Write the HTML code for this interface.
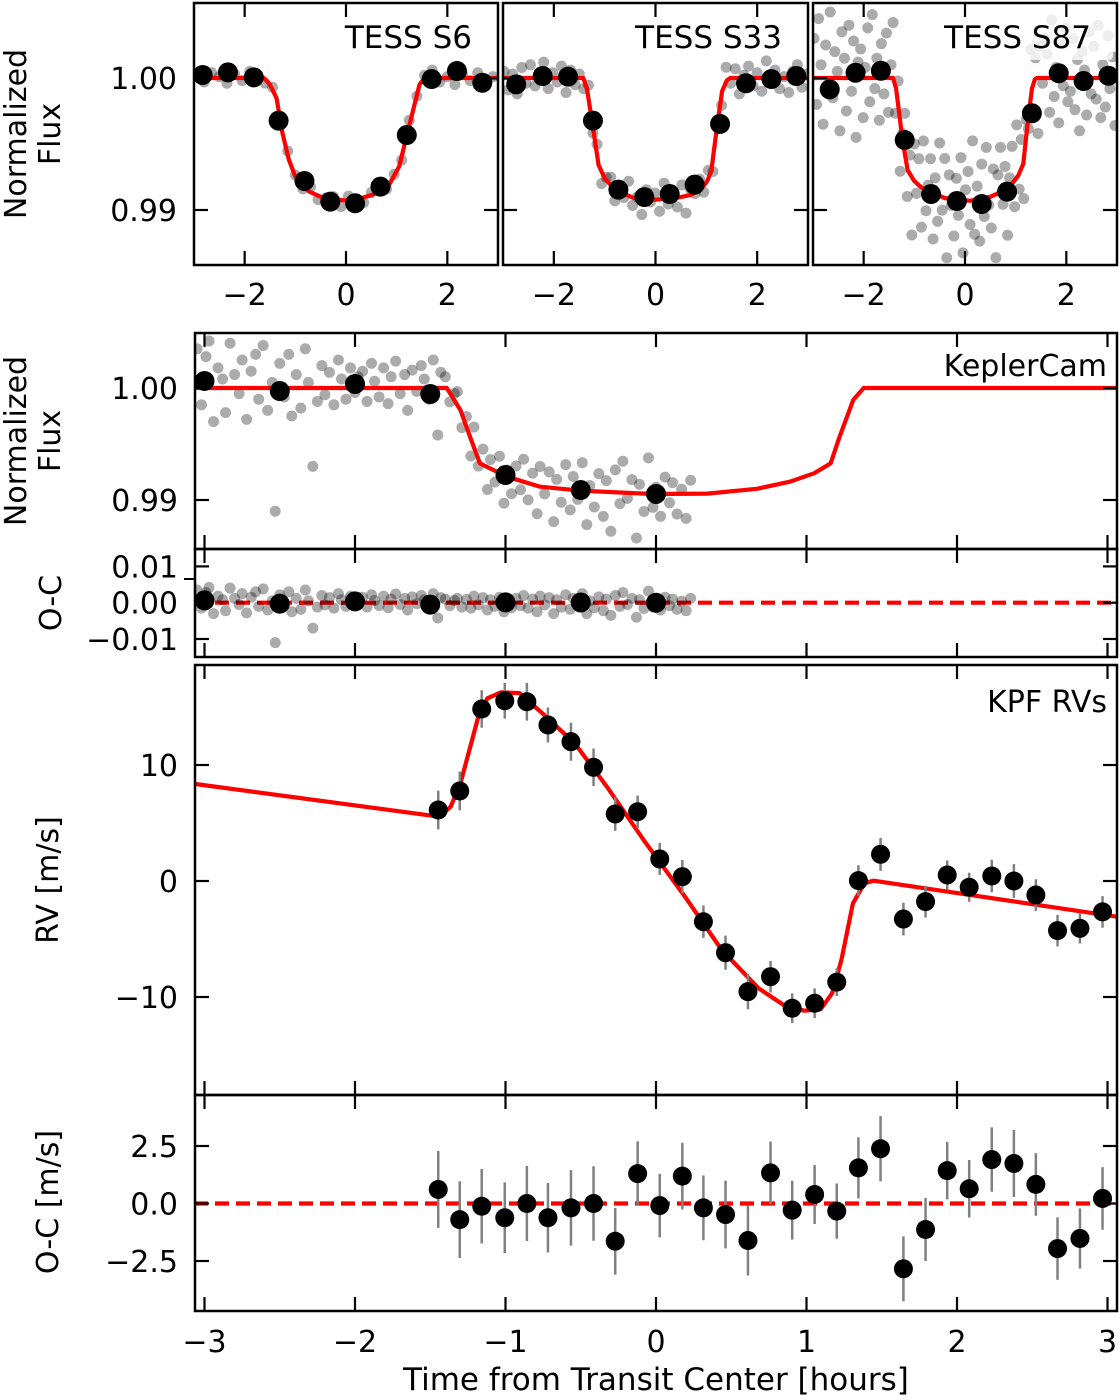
<!DOCTYPE html>
<html><head><meta charset="utf-8">
<style>
html,body{margin:0;padding:0;background:#fff;}
svg{display:block;font-family:"DejaVu Sans","Liberation Sans",sans-serif;}
text{fill:#000;}
</style></head>
<body>
<svg id="fig" width="1120" height="1400" viewBox="0 0 1120 1400" xmlns="http://www.w3.org/2000/svg">
<defs>
<clipPath id="cp1"><rect x="194" y="3" width="304" height="262"/></clipPath>
<clipPath id="cp2"><rect x="503" y="3" width="305" height="262"/></clipPath>
<clipPath id="cp3"><rect x="813" y="3" width="304" height="262"/></clipPath>
<clipPath id="cpK"><rect x="195" y="333" width="922" height="216"/></clipPath>
<clipPath id="cpKO"><rect x="195" y="549" width="922" height="108"/></clipPath>
<clipPath id="cpRV"><rect x="195" y="665" width="922" height="430"/></clipPath>
<clipPath id="cpRO"><rect x="195" y="1095" width="922" height="216"/></clipPath>
</defs>
<g id="layer"></g>
<text transform="translate(26,134) rotate(-90)" text-anchor="middle" font-size="30">Normalized</text>
<text transform="translate(60,134) rotate(-90)" text-anchor="middle" font-size="30">Flux</text>
<text transform="translate(26,441) rotate(-90)" text-anchor="middle" font-size="30">Normalized</text>
<text transform="translate(60,441) rotate(-90)" text-anchor="middle" font-size="30">Flux</text>
<text transform="translate(61,603) rotate(-90)" text-anchor="middle" font-size="30">O-C</text>
<text transform="translate(58,880) rotate(-90)" text-anchor="middle" font-size="30">RV [m/s]</text>
<text transform="translate(58,1202) rotate(-90)" text-anchor="middle" font-size="30">O-C [m/s]</text>
<text x="656" y="1390" text-anchor="middle" font-size="31">Time from Transit Center [hours]</text>
<line x1="184" y1="579" x2="195" y2="579" stroke="#000" stroke-width="2"/>
</svg>
<script>
// ---------- DATA ----------
const s6BinT=[-2.83,-2.33,-1.82,-1.33,-0.82,-0.31,0.18,0.68,1.20,1.69,2.19,2.69];
const s6BinF=[1.00023,1.00043,1.00005,0.99677,0.9922,0.99063,0.99051,0.99177,0.99568,0.99992,1.00053,0.99964];
const s33BinT=[-2.74,-2.22,-1.72,-1.23,-0.73,-0.22,0.28,0.77,1.27,1.78,2.28,2.77];
const s33BinF=[0.99952,1.00015,1.0001,0.99677,0.99154,0.99098,0.99121,0.99192,0.99652,0.9996,0.99992,1.00015];
const s87BinT=[-2.67,-2.16,-1.66,-1.19,-0.67,-0.16,0.33,0.83,1.32,1.85,2.34,2.83];
const s87BinF=[0.99914,1.0004,1.00055,0.9953,0.99121,0.99068,0.99045,0.99139,0.99733,1.00036,0.99977,1.00017];
const s6ModelT=[-3,-1.62,-1.5,-1.37,-1.26,-1.13,-1.0,-0.85,-0.73,-0.5,-0.34,0,0.3,0.52,0.7,0.85,1.05,1.25,1.45,1.55,3];
const s6ModelF=[1,1,0.9995,0.99846,0.99592,0.99385,0.99254,0.9918,0.9914,0.991,0.99085,0.99072,0.9909,0.99115,0.9915,0.99192,0.9933,0.9964,0.9995,1,1];
const s33ModelT=[-3,-1.42,-1.35,-1.25,-1.12,-1.0,-0.88,-0.6,-0.43,0,0.4,0.69,0.9,1.02,1.1,1.18,1.31,1.4,1.47,3];
const s33ModelF=[1,1,0.9992,0.99674,0.9934,0.9924,0.99189,0.9912,0.99091,0.99078,0.9909,0.99114,0.9916,0.9922,0.993,0.99545,0.999,0.9998,1,1];
const s87ModelT=[-3,-1.42,-1.36,-1.23,-1.13,-1.0,-0.86,-0.4,0.1,0.5,0.79,0.95,1.05,1.15,1.22,1.32,1.38,1.42,3];
const s87ModelF=[1,1,0.9992,0.9952,0.993,0.9922,0.9917,0.9909,0.9907,0.991,0.9915,0.9921,0.9926,0.9935,0.996,0.9992,0.9999,1,1];
const s6T=[-2.95,-2.8,-2.65,-2.5,-2.35,-2.2,-2.05,-1.9,-1.75,-1.6,-1.45,-1.3,-1.15,-1.0,-0.85,-0.7,-0.55,-0.4,-0.25,-0.1,0.05,0.2,0.35,0.5,0.65,0.8,0.95,1.1,1.25,1.4,1.55,1.7,1.85,2.0,2.15,2.3,2.45,2.6,2.75,2.9];
const s6Dev=[2,-3,4,1,-4,3,-2,5,-1,-3,2,-4,3,1,-2,4,-3,0,2,-5,3,-1,-4,2,5,-2,1,-3,4,-1,2,6,-3,1,-5,3,-2,4,-4,1];
const s33T=[-2.98,-2.9,-2.81,-2.72,-2.63,-2.55,-2.46,-2.37,-2.28,-2.2,-2.11,-2.02,-1.93,-1.85,-1.76,-1.67,-1.58,-1.5,-1.41,-1.32,-1.23,-1.15,-1.06,-0.97,-0.88,-0.8,-0.71,-0.62,-0.53,-0.45,-0.36,-0.27,-0.18,-0.1,-0.01,0.08,0.17,0.25,0.34,0.43,0.52,0.6,0.69,0.78,0.87,0.95,1.04,1.13,1.22,1.3,1.39,1.48,1.57,1.65,1.74,1.83,1.92,2.0,2.09,2.18,2.27,2.35,2.44,2.53,2.62,2.7,2.79,2.88,2.97];
const s33Dev=[5,-9,3,-12,8,-4,10,-6,2,12,-8,4,-3,9,-11,6,-5,3,-7,10,-4,8,-9,2,6,-10,4,-3,11,-6,1,-12,7,-2,5,-9,12,-4,3,-7,9,-13,4,-1,8,-5,6,-10,3,-8,11,-4,7,-12,2,9,-6,4,-10,13,-3,6,-8,1,-11,5,10,-7,3];
const s87T=[-2.98,-2.93,-2.89,-2.84,-2.80,-2.75,-2.70,-2.66,-2.61,-2.57,-2.52,-2.47,-2.43,-2.38,-2.34,-2.29,-2.24,-2.20,-2.15,-2.11,-2.06,-2.01,-1.97,-1.92,-1.88,-1.83,-1.78,-1.74,-1.69,-1.65,-1.60,-1.55,-1.51,-1.46,-1.42,-1.37,-1.32,-1.28,-1.23,-1.19,-1.14,-1.09,-1.05,-1.00,-0.96,-0.91,-0.86,-0.82,-0.77,-0.73,-0.68,-0.63,-0.59,-0.54,-0.50,-0.45,-0.40,-0.36,-0.31,-0.27,-0.22,-0.17,-0.13,-0.08,-0.04,0.01,0.06,0.10,0.15,0.19,0.24,0.29,0.33,0.38,0.42,0.47,0.52,0.56,0.61,0.65,0.70,0.75,0.79,0.84,0.88,0.93,0.98,1.02,1.07,1.11,1.16,1.21,1.25,1.30,1.34,1.39,1.44,1.48,1.53,1.57,1.62,1.67,1.71,1.76,1.80,1.85,1.90,1.94,1.99,2.03,2.08,2.13,2.17,2.22,2.26,2.31,2.36,2.40,2.45,2.49,2.54,2.59,2.63,2.68,2.72,2.77,2.82,2.86,2.91,2.96];
const s87Dev=[30,-20,45,10,-35,25,-5,50,-15,20,5,-40,35,15,-25,40,-10,28,-45,12,22,-30,8,38,-18,48,-8,15,-32,26,-12,34,-26,10,42,-20,18,-38,6,30,-22,14,-44,28,-8,20,-30,36,-16,4,25,-35,12,-20,40,-10,30,-45,18,-5,-28,16,-12,32,-40,8,22,-18,45,-26,10,-32,26,-14,38,-6,-24,20,-48,14,34,-10,18,-36,6,28,-20,40,-12,22,-30,12,-8,36,-22,16,-42,24,-4,30,18,-26,44,-14,8,-34,26,-6,38,-18,-10,30,-24,14,-40,20,6,-28,35,-12,24,-16,40,-30,10,-22,32,-8,16,-36];
const kcBinT=[-3.0,-2.5,-2.0,-1.5,-1.0,-0.5,0.0];
const kcBinF=[1.00063,0.99973,1.00036,0.99946,0.99223,0.99089,0.99054];
const kcModelT=[-3.07,-1.39,-1.3,-1.236,-1.17,-0.99,-0.77,-0.5,-0.02,0.34,0.67,0.89,1.05,1.16,1.22,1.31,1.38,3.07];
const kcModelF=[1,1,0.99804,0.99565,0.99327,0.99208,0.99119,0.99083,0.99054,0.99057,0.991,0.99163,0.99238,0.99327,0.99565,0.99893,1,1];
const kcT=[-3.05,-3.02,-2.99,-2.97,-2.94,-2.91,-2.88,-2.86,-2.83,-2.80,-2.77,-2.75,-2.72,-2.69,-2.66,-2.64,-2.61,-2.58,-2.55,-2.53,-2.50,-2.47,-2.44,-2.42,-2.39,-2.36,-2.33,-2.31,-2.28,-2.25,-2.22,-2.20,-2.17,-2.14,-2.11,-2.09,-2.06,-2.03,-2.00,-1.98,-1.95,-1.92,-1.89,-1.87,-1.84,-1.81,-1.78,-1.76,-1.73,-1.70,-1.67,-1.65,-1.62,-1.59,-1.56,-1.54,-1.51,-1.48,-1.45,-1.43,-1.40,-1.37,-1.34,-1.32,-1.29,-1.26,-1.23,-1.21,-1.18,-1.15,-1.12,-1.10,-1.07,-1.04,-1.01,-0.99,-0.96,-0.93,-0.90,-0.88,-0.85,-0.82,-0.79,-0.77,-0.74,-0.71,-0.68,-0.66,-0.63,-0.60,-0.57,-0.55,-0.52,-0.49,-0.46,-0.44,-0.41,-0.38,-0.35,-0.33,-0.30,-0.27,-0.24,-0.22,-0.19,-0.16,-0.13,-0.11,-0.08,-0.05,-0.02,0.00,0.03,0.06,0.09,0.11,0.14,0.17,0.20,0.23];
const kcDev=[35,-15,28,42,-30,18,8,-22,40,12,-5,25,-28,15,30,-10,38,-20,5,-110,22,-8,30,-25,12,-18,35,5,-70,-12,20,-6,14,-15,25,8,-10,18,-4,10,15,-12,22,6,-8,18,-14,10,24,-5,12,-20,16,-3,20,8,-10,25,-42,14,10,-8,6,12,-12,9,-15,18,-6,14,-20,8,-10,15,-25,6,-14,12,-8,20,-15,10,-25,18,-6,14,-30,8,-12,22,-18,12,-8,25,-30,5,-14,16,-22,10,-35,20,-10,28,-5,12,-40,8,-16,32,-12,6,-20,15,-8,10,-18,4,-22,12];
const rvT=[-1.447,-1.304,-1.158,-1.005,-0.858,-0.718,-0.565,-0.415,-0.271,-0.122,0.025,0.175,0.315,0.462,0.611,0.761,0.905,1.054,1.201,1.345,1.492,1.644,1.791,1.935,2.081,2.231,2.378,2.524,2.668,2.817,2.967];
const rvV=[6.12,7.76,14.83,15.54,15.45,13.45,12.01,9.8,5.78,5.97,1.90,0.37,-3.51,-6.18,-9.54,-8.25,-10.97,-10.54,-8.72,0.03,2.30,-3.28,-1.78,0.52,-0.54,0.43,0,-1.21,-4.28,-4.08,-2.66];
const rvErr=[1.67,1.67,1.62,1.54,1.63,1.51,1.64,1.62,1.45,1.40,1.38,1.45,1.41,1.47,1.52,1.36,1.28,1.28,1.20,1.33,1.42,1.41,1.37,1.25,1.25,1.40,1.46,1.36,1.36,1.31,1.36];
const rvRes=[0.61,-0.70,-0.12,-0.62,0,-0.62,-0.19,0,-1.64,1.30,-0.09,1.19,-0.19,-0.48,-1.61,1.33,-0.29,0.39,-0.33,1.55,2.38,-2.84,-1.13,1.43,0.64,1.91,1.74,0.83,-1.96,-1.52,0.22];
const rvModelT=[-3.06,-1.44,-1.365,-1.30,-1.24,-1.18,-1.12,-1.03,-0.907,-0.754,-0.54,-0.326,-0.082,0.193,0.437,0.682,0.865,0.987,1.094,1.17,1.232,1.308,1.385,1.446,3.063];
const rvModelV=[8.36,5.54,6.4,8.4,11.3,14.2,15.75,16.27,16.2,14.45,11.87,8.13,3.53,-1.35,-5.95,-9.25,-10.84,-11.18,-11.06,-9.68,-6.81,-1.93,-0.2,0.03,-3.08];
const topXTicks=[-2,0,2];
const topXLabels=["\u22122","0","2"];
const botXTicks=[-3,-2,-1,0,1,2,3];
const botXLabels=["\u22123","\u22122","\u22121","0","1","2","3"];
const fluxTicks=[1.00,0.99];
const fluxLabels=["1.00","0.99"];
const kocTicks=[0.01,0,-0.01];
const kocLabels=["0.01","0.00","\u22120.01"];
const rvTicks=[10,0,-10];
const rvLabels=["10","0","\u221210"];
const rocTicks=[2.5,0,-2.5];
const rocLabels=["2.5","0.0","\u22122.5"];

// ---------- AXES ----------
const topPanels=[{L:194,R:498,clip:'cp1',name:'tess-s6'},{L:503,R:808,clip:'cp2',name:'tess-s33'},{L:813,R:1117,clip:'cp3',name:'tess-s87'}];
const TT=3,TB=265;
function xTop(p,t){return p.L+(t+3)/6*(p.R-p.L);}
function yTop(f){return 78+(1-f)*13200;}
const BL=195,BR=1117;
function xB(t){return 656+t*150.5;}
function yK(f){return 388+(1-f)*11200;}
function yKO(r){return 602.7-r*3630;}
function yRV(v){return 881-v*11.6;}
function yRO(v){return 1203.5-v*23;}

const NS='http://www.w3.org/2000/svg';
const layer=document.getElementById('layer');
function mk(tag,attrs,parent){const e=document.createElementNS(NS,tag);for(const k in attrs)e.setAttribute(k,attrs[k]);(parent||layer).appendChild(e);return e;}
function interp(ts,vs,t){if(t<=ts[0])return vs[0];for(let i=1;i<ts.length;i++){if(t<=ts[i]){const a=(t-ts[i-1])/(ts[i]-ts[i-1]);return vs[i-1]+a*(vs[i]-vs[i-1]);}}return vs[vs.length-1];}
function grp(clip){return mk('g',clip?{'clip-path':'url(#'+clip+')'}:{});}

function frame(L,T,R,B,name){
  const r=mk('rect',{x:L,y:T,width:R-L,height:B-T,fill:'none',stroke:'#000','stroke-width':2.5});
  
  
}
function xTicks(vals,fx,T,B,name){
  vals.forEach(v=>{const x=fx(v);
    const a=mk('line',{x1:x,x2:x,y1:T,y2:T+14,stroke:'#000','stroke-width':2.2});
    
    
    const b=mk('line',{x1:x,x2:x,y1:B-14,y2:B,stroke:'#000','stroke-width':2.2});
    
    
  });
}
function yTicks(vals,labels,fy,L,R,name){
  vals.forEach((v,i)=>{const y=fy(v);
    const a=mk('line',{x1:L,x2:L+14,y1:y,y2:y,stroke:'#000','stroke-width':2.2});
    
    
    const b=mk('line',{x1:R-14,x2:R,y1:y,y2:y,stroke:'#000','stroke-width':2.2});
    
    
    if(labels){const t=mk('text',{x:L-17,y:y+11,'text-anchor':'end','font-size':30});
      t.textContent=labels[i];
      
      }
  });
}
function scatter(ts,ds,mT,mF,fx,fy,g,name,scale){
  const n=Math.min(ts.length,ds.length);
  for(let i=0;i<n;i++){const f=interp(mT,mF,ts[i])+ds[i]*scale;
    const c=mk('circle',{cx:fx(ts[i]),cy:fy(f),r:5.5,fill:'#000','fill-opacity':0.33},g);
    
    }
}
function modelLine(mT,mF,fx,fy,g,name,dash){
  const pts=[];
  for(let i=0;i<mT.length;i++){pts.push(fx(mT[i]).toFixed(1)+','+fy(mF[i]).toFixed(1));}
  const p=mk('polyline',{points:pts.join(' '),fill:'none',stroke:'#ff0000','stroke-width':4.2,'stroke-linejoin':'round'},g);
  if(dash)p.setAttribute('stroke-dasharray',dash);
  
  
}
function binned(ts,fs,fx,fy,g,name,r){
  for(let i=0;i<ts.length;i++){
    const c=mk('circle',{cx:fx(ts[i]),cy:fy(fs[i]),r:r||10,fill:'#000'},g);
    
    }
}

// ---------- TESS panels ----------
const tessData=[
 {bt:s6BinT,bf:s6BinF,mt:s6ModelT,mf:s6ModelF,st:s6T,sd:s6Dev,label:'TESS S6'},
 {bt:s33BinT,bf:s33BinF,mt:s33ModelT,mf:s33ModelF,st:s33T,sd:s33Dev,label:'TESS S33'},
 {bt:s87BinT,bf:s87BinF,mt:s87ModelT,mf:s87ModelF,st:s87T,sd:s87Dev,label:'TESS S87'}];
topPanels.forEach((p,k)=>{
  const d=tessData[k];
  const fx=t=>xTop(p,t);
  const g=grp(p.clip);
  scatter(d.st,d.sd,d.mt,d.mf,fx,yTop,g,p.name,1e-4);
  if(k===2){const bx=mk('rect',{x:937,y:14,width:176,height:46,fill:'#fff','fill-opacity':0.8,rx:4},g);
    
    }
  modelLine(d.mt,d.mf,fx,yTop,g,p.name);
  binned(d.bt,d.bf,fx,yTop,g,p.name,10);
  frame(p.L,TT,p.R,TB,p.name);
  xTicks(topXTicks,fx,TT,TB,p.name);
  yTicks(fluxTicks,k===0?fluxLabels:null,yTop,p.L,p.R,p.name);
  topXTicks.forEach((v,i)=>{const t=mk('text',{x:fx(v),y:305,'text-anchor':'middle','font-size':30});
    t.textContent=topXLabels[i];
    
    });
  const lt=mk('text',{x:p.R-26,y:48,'text-anchor':'end','font-size':31});
  lt.textContent=d.label;
  
  
});

// ---------- KeplerCam ----------
(function(){
  const g=grp('cpK');
  scatter(kcT,kcDev,kcModelT,kcModelF,xB,yK,g,'keplercam',1e-4);
  modelLine(kcModelT,kcModelF,xB,yK,g,'keplercam');
  binned(kcBinT,kcBinF,xB,yK,g,'keplercam',10);
  frame(BL,333,BR,549,'keplercam');
  xTicks(botXTicks,xB,333,549,'keplercam');
  yTicks(fluxTicks,fluxLabels,yK,BL,BR,'keplercam');
  const lt=mk('text',{x:1107,y:376,'text-anchor':'end','font-size':30});
  lt.textContent='KeplerCam';
  
  
  const g2=grp('cpKO');
  modelLine([-3.07,3.07],[0,0],xB,yKO,g2,'keplercam-oc-zero','14 7');
  const n=Math.min(kcT.length,kcDev.length);
  for(let i=0;i<n;i++){
    const c=mk('circle',{cx:xB(kcT[i]),cy:yKO(kcDev[i]*1e-4),r:5.5,fill:'#000','fill-opacity':0.33},g2);
    
    }
  for(let i=0;i<kcBinT.length;i++){
    const r=kcBinF[i]-interp(kcModelT,kcModelF,kcBinT[i]);
    const c=mk('circle',{cx:xB(kcBinT[i]),cy:yKO(r),r:10,fill:'#000'},g2);
    
    }
  frame(BL,549,BR,657,'keplercam-oc');
  xTicks(botXTicks,xB,549,657,'keplercam-oc');
  yTicks(kocTicks,kocLabels,yKO,BL,BR,'keplercam-oc');
})();

// ---------- RV ----------
(function(){
  const g=grp('cpRV');
  modelLine(rvModelT,rvModelV,xB,yRV,g,'rv');
  for(let i=0;i<rvT.length;i++){
    const x=xB(rvT[i]);
    const e=mk('line',{x1:x,x2:x,y1:yRV(rvV[i]-rvErr[i]),y2:yRV(rvV[i]+rvErr[i]),stroke:'#808080','stroke-width':2.5},g);
    
    
  }
  for(let i=0;i<rvT.length;i++){
    const c=mk('circle',{cx:xB(rvT[i]),cy:yRV(rvV[i]),r:9.5,fill:'#000'},g);
    
    }
  frame(BL,665,BR,1095,'rv');
  xTicks(botXTicks,xB,665,1095,'rv');
  yTicks(rvTicks,rvLabels,yRV,BL,BR,'rv');
  const lt=mk('text',{x:1107,y:712,'text-anchor':'end','font-size':30});
  lt.textContent='KPF RVs';
  
  

  const g2=grp('cpRO');
  modelLine([-3.07,3.07],[0,0],xB,yRO,g2,'rv-oc-zero','14 7');
  for(let i=0;i<rvT.length;i++){
    const x=xB(rvT[i]);
    const e=mk('line',{x1:x,x2:x,y1:yRO(rvRes[i]-rvErr[i]),y2:yRO(rvRes[i]+rvErr[i]),stroke:'#808080','stroke-width':2.5},g2);
    
    
  }
  for(let i=0;i<rvT.length;i++){
    const c=mk('circle',{cx:xB(rvT[i]),cy:yRO(rvRes[i]),r:9.5,fill:'#000'},g2);
    
    }
  frame(BL,1095,BR,1311,'rv-oc');
  xTicks(botXTicks,xB,1095,1311,'rv-oc');
  yTicks(rocTicks,rocLabels,yRO,BL,BR,'rv-oc');
  botXTicks.forEach((v,i)=>{const t=mk('text',{x:xB(v),y:1352,'text-anchor':'middle','font-size':30});
    t.textContent=botXLabels[i];
    
    });
})();
</script>
</body></html>
